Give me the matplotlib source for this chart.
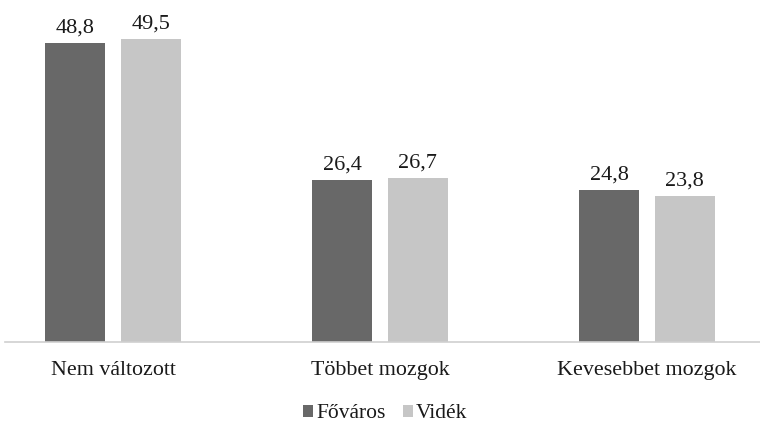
import matplotlib
matplotlib.use("Agg")
import matplotlib.pyplot as plt
import numpy as np

categories = ["Nem változott", "Többet mozgok", "Kevesebbet mozgok"]
series_names = ["Főváros", "Vidék"]
fovaros = [48.8, 26.4, 24.8]
videk = [49.5, 26.7, 23.8]

colors = ["#686868", "#c6c6c6"]

plt.rcParams["font.family"] = ["Liberation Serif", "DejaVu Serif"]

fig = plt.figure(figsize=(7.6, 4.26), dpi=100)
W, H = 760, 426
ax_left, ax_right = 5, 760
ax_top, ax_base = 0, 342
ax = fig.add_axes([ax_left / W, (H - ax_base) / H, (ax_right - ax_left) / W, (ax_base - ax_top) / H])

px_per_cat = 267.0
center0 = 113.0
ax.set_xlim((ax_left - center0) / px_per_cat, (ax_right - center0) / px_per_cat)
ax.set_ylim(0, (ax_base - ax_top) / 6.127)

x = np.arange(len(categories))
width = 60 / px_per_cat
offset = 37.75 / px_per_cat

for vals, col, off, name in [(fovaros, colors[0], -offset, series_names[0]),
                             (videk, colors[1], offset, series_names[1])]:
    bars = ax.bar(x + off, vals, width=width, color=col, label=name)
    for b, v in zip(bars, vals):
        ax.annotate(f"{v:.1f}".replace(".", ","), (b.get_x() + b.get_width() / 2, v),
                    xytext=(0, 4), textcoords="offset points", ha="center", va="bottom",
                    fontsize=16, color="#1a1a1a")

for s in ["top", "right", "left"]:
    ax.spines[s].set_visible(False)
ax.spines["bottom"].set_color("#cfcfcf")
ax.spines["bottom"].set_linewidth(1.2)
ax.set_yticks([])
ax.set_xticks(x)
ax.set_xticklabels(categories, fontsize=15.8, color="#1a1a1a")
ax.tick_params(axis="x", length=0, pad=14)

leg = fig.legend(loc="center", bbox_to_anchor=(385 / W, 1 - 414 / H), ncol=2, frameon=False,
                 fontsize=15.5, handlelength=0.47, handleheight=0.47, handletextpad=0.15,
                 columnspacing=0.8)
for t in leg.get_texts():
    t.set_color("#1a1a1a")

fig.savefig("out.png", dpi=100)
